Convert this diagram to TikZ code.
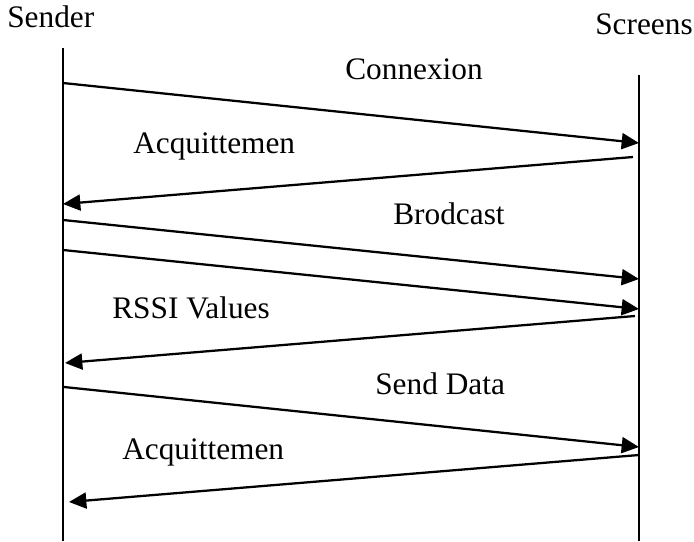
\documentclass[tikz,border=0pt]{standalone}
\usepackage{fontspec}
\setmainfont{Liberation Serif}
\usetikzlibrary{arrows.meta}
\begin{document}
\begin{tikzpicture}[x=0.75pt,y=-0.75pt,
  lbl/.style={anchor=base west,inner sep=0pt,font=\fontsize{23.5pt}{28pt}\selectfont},
  life/.style={line width=1.5pt},
  msg/.style={line width=1.7pt,-{Triangle[length=13pt,width=12pt]}}]
\useasboundingbox (0,0) rectangle (694,542);
% lifelines
\coordinate (sTop) at (63,48);
\coordinate (sBot) at (63,541);
\coordinate (rTop) at (639,75);
\coordinate (rBot) at (639,541);
\draw[life] (sTop) -- (sBot);
\draw[life] (rTop) -- (rBot);
% titles
\node[lbl] (sender) at (7,28) {Sender};
\node[lbl] (screens) at (595,35) {Screens};
% message end points
\coordinate (a1) at (63,83);   \coordinate (b1) at (639,143);
\coordinate (a2) at (633,157); \coordinate (b2) at (63,204);
\coordinate (a3) at (63,220);  \coordinate (b3) at (639,279);
\coordinate (a4) at (63,250);  \coordinate (b4) at (639,309);
\coordinate (a5) at (635,316); \coordinate (b5) at (65,363);
\coordinate (a6) at (64,387);  \coordinate (b6) at (639,447);
\coordinate (a7) at (639,455); \coordinate (b7) at (69,502);
\draw[msg] (a1) -- (b1);
\draw[msg] (a2) -- (b2);
\draw[msg] (a3) -- (b3);
\draw[msg] (a4) -- (b4);
\draw[msg] (a5) -- (b5);
\draw[msg] (a6) -- (b6);
\draw[msg] (a7) -- (b7);
% labels
\node[lbl] (l1) at (345,80) {Connexion};
\node[lbl] (l2) at (133,154) {Acquittemen};
\node[lbl] (l3) at (393,224) {Brodcast};
\node[lbl] (l5) at (112,319) {RSSI Values};
\node[lbl] (l6) at (375,394) {Send Data};
\node[lbl] (l7) at (122,459) {Acquittemen};
\end{tikzpicture}
\end{document}
